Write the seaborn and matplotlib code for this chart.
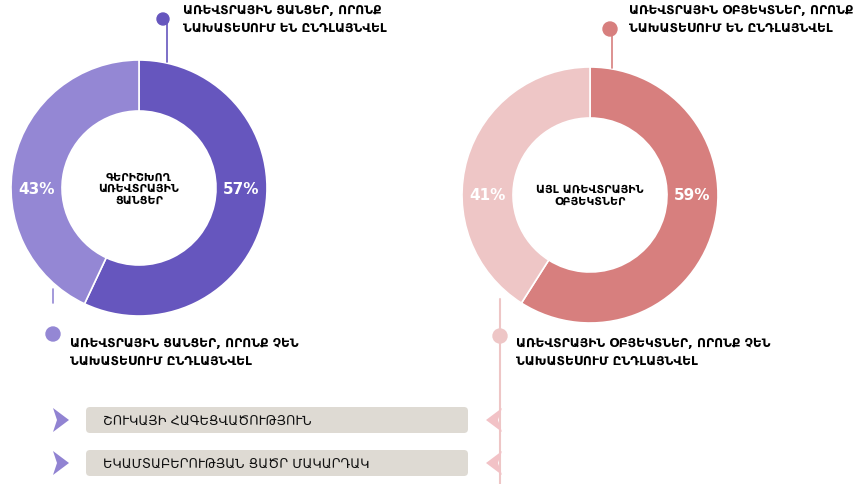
import matplotlib
matplotlib.use("Agg")
import matplotlib.pyplot as plt
import seaborn as sns
from matplotlib.patches import FancyBboxPatch, Polygon, Circle

# data
left_shares = [57, 43]
right_shares = [59, 41]
left_center_label = "ԳԵՐԻՇԽՈՂ\nԱՌԵՎՏՐԱՅԻՆ\nՑԱՆՑԵՐ"
right_center_label = "ԱՅԼ ԱՌԵՎՏՐԱՅԻՆ\nՕԲՅԵԿՏՆԵՐ"
left_top_label = "ԱՌԵՎՏՐԱՅԻՆ ՑԱՆՑԵՐ, ՈՐՈՆՔ\nՆԱԽԱՏԵՍՈՒՄ ԵՆ ԸՆԴԼԱՅՆՎԵԼ"
left_bottom_label = "ԱՌԵՎՏՐԱՅԻՆ ՑԱՆՑԵՐ, ՈՐՈՆՔ ՉԵՆ\nՆԱԽԱՏԵՍՈՒՄ ԸՆԴԼԱՅՆՎԵԼ"
right_top_label = "ԱՌԵՎՏՐԱՅԻՆ ՕԲՅԵԿՏՆԵՐ, ՈՐՈՆՔ\nՆԱԽԱՏԵՍՈՒՄ ԵՆ ԸՆԴԼԱՅՆՎԵԼ"
right_bottom_label = "ԱՌԵՎՏՐԱՅԻՆ ՕԲՅԵԿՏՆԵՐ, ՈՐՈՆՔ ՉԵՆ\nՆԱԽԱՏԵՍՈՒՄ ԸՆԴԼԱՅՆՎԵԼ"
reasons = ["ՇՈՒԿԱՅԻ ՀԱԳԵՑՎԱԾՈՒԹՅՈՒՆ", "ԵԿԱՄՏԱԲԵՐՈՒԹՅԱՆ ՑԱԾՐ ՄԱԿԱՐԴԱԿ"]

sns.set_theme(style="white")
plt.rcParams['font.family'] = ['DejaVu Sans']

purple = ["#6656BE", "#9487D4"]
pink = ["#D77F7E", "#EEC6C6"]
grey = "#DEDAD3"

W, H = 854, 485
fig = plt.figure(figsize=(W / 100, H / 100), dpi=100)
ax = fig.add_axes([0, 0, 1, 1])
ax.set_xlim(0, W)
ax.set_ylim(0, H)
ax.set_aspect("equal")
ax.axis("off")


def Y(y):
    return H - y


R, ring = 128, 51


def donut(cx, cy, shares, colors, center_label):
    ax.pie(shares, colors=colors, startangle=90, counterclock=False,
           center=(cx, Y(cy)), radius=R, frame=True,
           wedgeprops=dict(width=ring, edgecolor="white", linewidth=1.2))
    mid = R - ring / 2
    ax.text(cx + mid, Y(cy), f"{shares[0]}%", color="white", fontsize=11,
            fontweight="bold", ha="center", va="center")
    ax.text(cx - mid, Y(cy), f"{shares[1]}%", color="white", fontsize=11,
            fontweight="bold", ha="center", va="center")
    ax.text(cx, Y(cy), center_label, color="black", fontsize=8,
            fontweight="bold", ha="center", va="center", linespacing=1.2)


donut(139, 189, left_shares, purple, left_center_label)
donut(590, 196, right_shares, pink, right_center_label)
ax.set_xlim(0, W)
ax.set_ylim(0, H)
ax.axis("off")

# connectors and dots
ax.plot([167, 167], [Y(22), Y(63)], color=purple[0], lw=1.2, zorder=1)
ax.add_patch(Circle((163, Y(20)), 6, color=purple[0], zorder=3))
ax.plot([53, 53], [Y(290), Y(304)], color=purple[1], lw=1.2, zorder=1)
ax.add_patch(Circle((53, Y(335)), 7, color=purple[1], zorder=3))
ax.plot([612, 612], [Y(30), Y(69)], color=pink[0], lw=1.2, zorder=1)
ax.add_patch(Circle((610, Y(30)), 7, color=pink[0], zorder=3))
ax.plot([500, 500], [Y(300), Y(485)], color=pink[1], lw=1.5, zorder=1)
ax.add_patch(Circle((500, Y(337)), 7, color=pink[1], zorder=3))

lab = dict(fontsize=8.8, fontweight="bold", color="black", va="center",
           ha="left", linespacing=1.45)
ax.text(183, Y(19), left_top_label, **lab)
ax.text(629, Y(19), right_top_label, **lab)
ax.text(70, Y(352), left_bottom_label, **lab)
ax.text(516, Y(352), right_bottom_label, **lab)

# reason bars
for i, r in enumerate(reasons):
    yc = 421 + i * 43
    ax.add_patch(FancyBboxPatch((86, Y(yc + 13)), 382, 26,
                                boxstyle="round,pad=0,rounding_size=4",
                                fc=grey, ec="none"))
    ax.text(103, Y(yc), r, fontsize=9.3, color="#111111", va="center", ha="left")
    ax.add_patch(Polygon([(53, Y(yc - 12)), (69, Y(yc)), (53, Y(yc + 12)),
                          (57, Y(yc))], closed=True, fc="#9183D2", ec="none"))
    ax.add_patch(Polygon([(502, Y(yc - 12)), (486, Y(yc)), (502, Y(yc + 12)),
                          (498, Y(yc))], closed=True, fc="#F2C2C6", ec="none",
                         zorder=2))

fig.savefig("out.png", dpi=100, facecolor="white")
